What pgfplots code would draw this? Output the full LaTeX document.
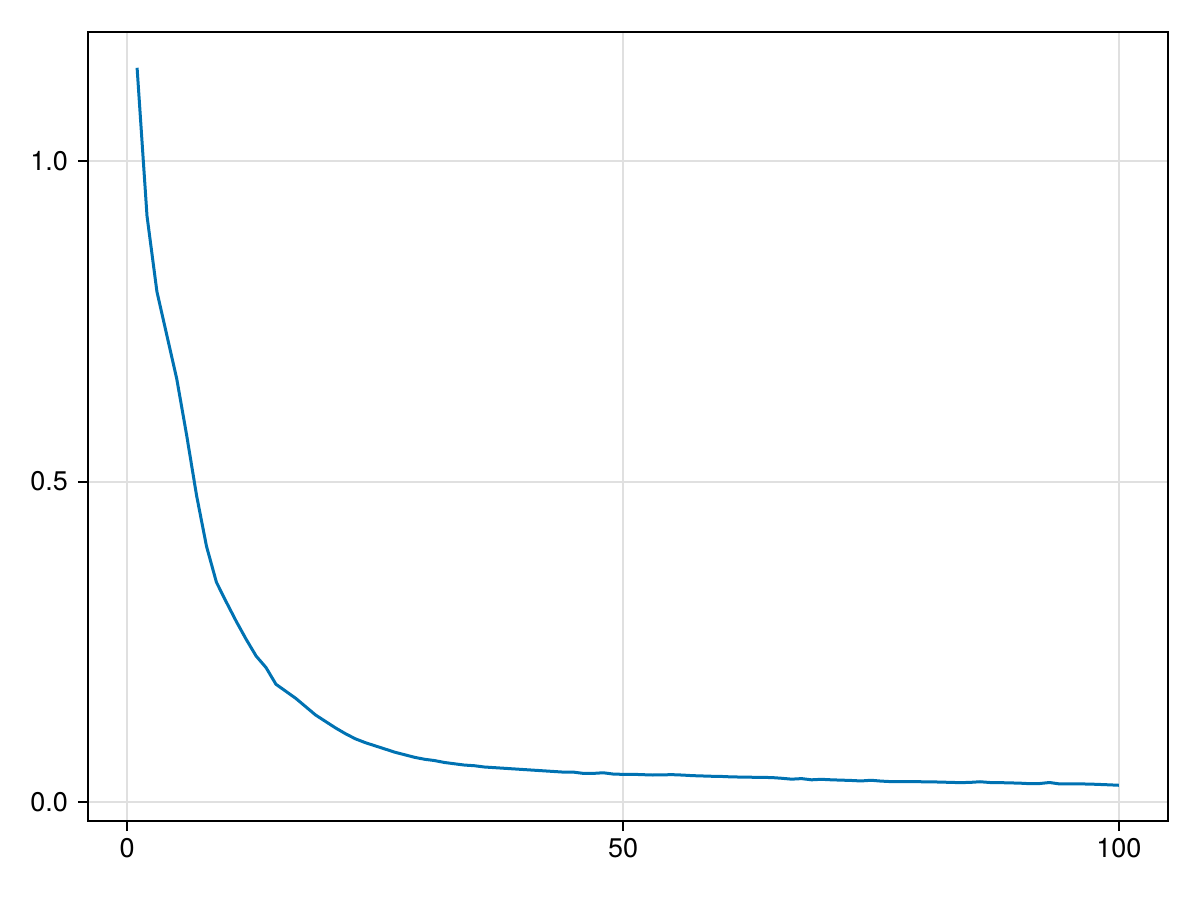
\documentclass[border=0pt]{standalone}
\usepackage{fontspec}
\setmainfont{TeX Gyre Heros}
\usepackage{pgfplots}
\pgfplotsset{compat=1.18}
\definecolor{wblue}{HTML}{0072B2}
\definecolor{gridc}{gray}{0.88}
\begin{document}
\begin{tikzpicture}
\useasboundingbox (0,0) rectangle (600bp,450bp);
\begin{axis}[
  at={(44bp,39.5bp)}, anchor=south west,
  scale only axis, width=540bp, height=394.5bp,
  xmin=-3.95, xmax=104.95, ymin=-0.0292, ymax=1.2008,
  xtick={0,50,100}, ytick={0,0.5,1},
  grid=major, major grid style={gridc, line width=1bp},
  axis line style={line width=1bp},
  tick align=outside, major tick length=5bp,
  tick style={line width=1bp, black},
  xtick pos=bottom, ytick pos=left,
  /pgf/number format/assume math mode=true,
  tick label style={font=\fontsize{13.5bp}{16bp}\selectfont},
  yticklabel style={xshift=-1.5bp, /pgf/number format/fixed, /pgf/number format/fixed zerofill, /pgf/number format/precision=1},
]
\addplot[wblue, line width=1.5bp] coordinates {
(1,1.145)(2,0.914)(3,0.796)(4,0.728)(5,0.660)(6,0.572)(7,0.478)(8,0.399)(9,0.343)(10,0.312)
(11,0.282)(12,0.254)(13,0.228)(14,0.210)(15,0.184)(16,0.173)(17,0.162)(18,0.149)(19,0.136)(20,0.126)
(21,0.116)(22,0.107)(23,0.099)(24,0.093)(25,0.088)(26,0.083)(27,0.078)(28,0.074)(29,0.070)(30,0.067)
(31,0.065)(32,0.062)(33,0.060)(34,0.058)(35,0.057)(36,0.055)(37,0.054)(38,0.053)(39,0.052)(40,0.051)
(41,0.050)(42,0.049)(43,0.048)(44,0.047)(45,0.047)(46,0.045)(47,0.045)(48,0.046)(49,0.044)(50,0.0435)
(51,0.0436)(52,0.0430)(53,0.0425)(54,0.0428)(55,0.0430)(56,0.0424)(57,0.0415)(58,0.0410)(59,0.0405)(60,0.0402)
(61,0.0395)(62,0.0393)(63,0.0390)(64,0.0388)(65,0.0385)(66,0.0374)(67,0.0360)(68,0.0369)(69,0.0350)(70,0.0358)
(71,0.0350)(72,0.0345)(73,0.0340)(74,0.0332)(75,0.0343)(76,0.0330)(77,0.0322)(78,0.0322)(79,0.0322)(80,0.0320)
(81,0.0318)(82,0.0315)(83,0.0310)(84,0.0306)(85,0.0310)(86,0.0320)(87,0.0308)(88,0.0306)(89,0.0302)(90,0.0298)
(91,0.0290)(92,0.0292)(93,0.0308)(94,0.0286)(95,0.0287)(96,0.0286)(97,0.0284)(98,0.0278)(99,0.0272)(100,0.0265)
};
\end{axis}
\end{tikzpicture}
\end{document}
